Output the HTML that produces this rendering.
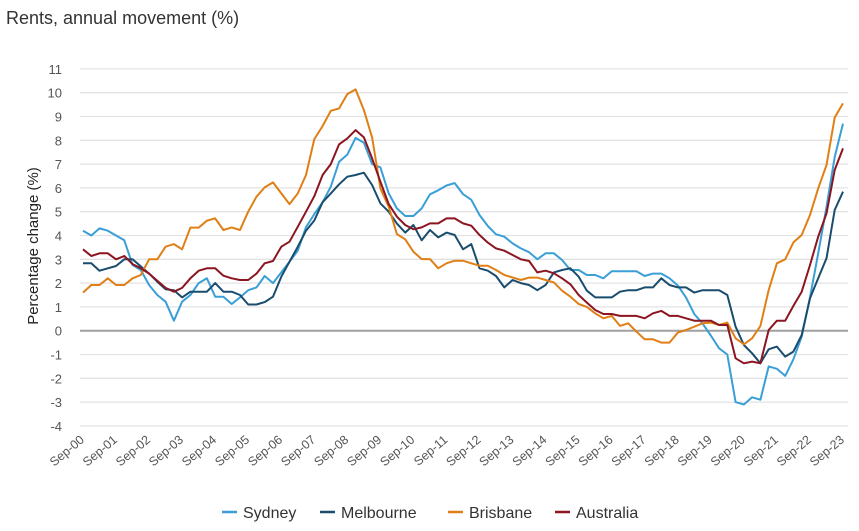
<!DOCTYPE html>
<html><head><meta charset="utf-8"><style>
body{margin:0;background:#fff;width:859px;height:531px;overflow:hidden;font-family:"Liberation Sans",sans-serif}
</style></head><body>
<svg id="chart" width="859" height="531" style="position:absolute;left:0;top:0">
<text x="6" y="24" font-size="18" fill="#333">Rents, annual movement (%)</text>
<text transform="translate(38,246) rotate(-90)" text-anchor="middle" font-size="15" fill="#222">Percentage change (%)</text>
<g id="grid"></g><g id="xlabels"></g><g id="lines"></g><g id="legend"></g>
</svg>
<script>
const yTicks=[-4,-3,-2,-1,0,1,2,3,4,5,6,7,8,9,10,11];
const xTickLabels=["Sep-00","Sep-01","Sep-02","Sep-03","Sep-04","Sep-05","Sep-06","Sep-07","Sep-08","Sep-09","Sep-10","Sep-11","Sep-12","Sep-13","Sep-14","Sep-15","Sep-16","Sep-17","Sep-18","Sep-19","Sep-20","Sep-21","Sep-22","Sep-23"];
const seriesNames=["Sydney","Melbourne","Brisbane","Australia"];
const sydney=[4.2,4.0,4.3,4.2,4.0,3.8,2.76,2.55,1.92,1.5,1.22,0.42,1.22,1.5,2.0,2.2,1.43,1.43,1.12,1.4,1.7,1.82,2.3,2.0,2.45,2.9,3.36,4.35,4.9,5.4,6.05,7.1,7.4,8.1,7.9,7.0,6.86,5.77,5.14,4.82,4.82,5.14,5.73,5.9,6.1,6.2,5.74,5.5,4.86,4.4,4.05,3.95,3.67,3.46,3.3,3.0,3.25,3.25,2.97,2.55,2.55,2.34,2.34,2.2,2.5,2.5,2.5,2.5,2.3,2.4,2.4,2.2,1.9,1.4,0.7,0.3,-0.2,-0.74,-1.0,-3.0,-3.1,-2.8,-2.9,-1.5,-1.6,-1.9,-1.2,-0.25,1.4,3.25,5.2,7.3,8.7];
const melbourne=[2.83,2.83,2.52,2.62,2.72,3.0,3.0,2.7,2.4,2.06,1.74,1.7,1.4,1.64,1.64,1.64,2.0,1.64,1.64,1.5,1.1,1.1,1.2,1.43,2.27,2.9,3.53,4.2,4.63,5.4,5.77,6.15,6.47,6.54,6.64,6.12,5.35,5.0,4.5,4.12,4.44,3.8,4.23,3.92,4.12,4.02,3.42,3.64,2.62,2.52,2.3,1.82,2.13,2.0,1.92,1.7,1.92,2.45,2.55,2.62,2.27,1.68,1.4,1.4,1.4,1.64,1.7,1.7,1.82,1.82,2.2,1.92,1.82,1.82,1.6,1.7,1.7,1.7,1.5,0.17,-0.6,-0.95,-1.37,-0.78,-0.67,-1.09,-0.88,-0.18,1.36,2.2,3.04,5.07,5.84];
const brisbane=[1.6,1.92,1.92,2.2,1.92,1.92,2.2,2.34,3.0,3.0,3.53,3.64,3.42,4.33,4.33,4.62,4.72,4.23,4.34,4.23,5.0,5.63,6.02,6.23,5.77,5.32,5.77,6.54,8.05,8.6,9.24,9.34,9.94,10.14,9.27,8.12,5.98,5.21,4.06,3.84,3.32,3.01,3.01,2.62,2.83,2.94,2.94,2.83,2.73,2.73,2.55,2.34,2.24,2.13,2.23,2.23,2.13,2.03,1.68,1.43,1.12,1.0,0.73,0.52,0.62,0.2,0.31,-0.04,-0.36,-0.36,-0.5,-0.5,-0.08,0.03,0.17,0.31,0.34,0.24,0.34,-0.32,-0.57,-0.32,0.2,1.71,2.83,3.0,3.71,4.02,4.86,5.98,6.96,8.96,9.55];
const australia=[3.42,3.14,3.25,3.25,3.0,3.14,2.8,2.62,2.4,2.1,1.8,1.64,1.8,2.2,2.52,2.62,2.62,2.31,2.2,2.13,2.13,2.4,2.83,2.93,3.53,3.74,4.37,5.0,5.65,6.54,7.0,7.83,8.08,8.43,8.12,7.24,6.26,5.32,4.79,4.44,4.26,4.34,4.51,4.51,4.72,4.72,4.51,4.41,4.02,3.7,3.46,3.36,3.18,3.0,2.93,2.45,2.52,2.41,2.2,1.95,1.5,1.18,0.87,0.7,0.7,0.62,0.62,0.62,0.52,0.73,0.83,0.62,0.62,0.52,0.42,0.42,0.42,0.24,0.24,-1.16,-1.37,-1.3,-1.37,0.03,0.42,0.42,1.04,1.64,2.76,3.95,4.93,6.75,7.66];
const seriesData=[sydney,melbourne,brisbane,australia];
const seriesColors=["#3a9fd6","#1a4c6e","#e07f16","#8b1520"];
const NS="http://www.w3.org/2000/svg";
const xScale=i=>83+i*(760/92);
const yScale=v=>330.7-v*23.8;
function mk(tag,attrs,parent){const e=document.createElementNS(NS,tag);for(const k in attrs)e.setAttribute(k,attrs[k]);parent.appendChild(e);return e;}
const grid=document.getElementById('grid');
yTicks.forEach(t=>{
  const l=mk('line',{x1:80,x2:848,y1:yScale(t),y2:yScale(t),stroke:t===0?'#a0a0a0':'#e3e3e3','stroke-width':t===0?2:1.3},grid);
  
  
  const tx=mk('text',{x:62,y:yScale(t)+5,'text-anchor':'end','font-size':13,fill:'#555'},grid);
  tx.textContent=String(t);
  
  
});
const xl=document.getElementById('xlabels');
xTickLabels.forEach((s,k)=>{
  const x=xScale(k*4)+2;
  const tx=mk('text',{transform:`translate(${x},441) rotate(-40)`,'text-anchor':'end','font-size':12.5,fill:'#555'},xl);
  tx.textContent=s;
  
  
});
const lines=document.getElementById('lines');
seriesData.forEach((d,si)=>{
  const p=mk('polyline',{points:d.map((v,i)=>xScale(i).toFixed(1)+','+yScale(v).toFixed(1)).join(' '),fill:'none',stroke:seriesColors[si],'stroke-width':2,'stroke-linejoin':'round'},lines);
  
  
});
const lg=document.getElementById('legend');
const lx=[222,320,448,555];
seriesNames.forEach((n,si)=>{
  const g=mk('g',{},lg);
  
  
  mk('line',{x1:lx[si],x2:lx[si]+15,y1:512,y2:512,stroke:seriesColors[si],'stroke-width':2.5},g);
  const t=mk('text',{x:lx[si]+21,y:518,'font-size':16,fill:'#333'},g);
  t.textContent=n;
});
</script>
</body></html>
